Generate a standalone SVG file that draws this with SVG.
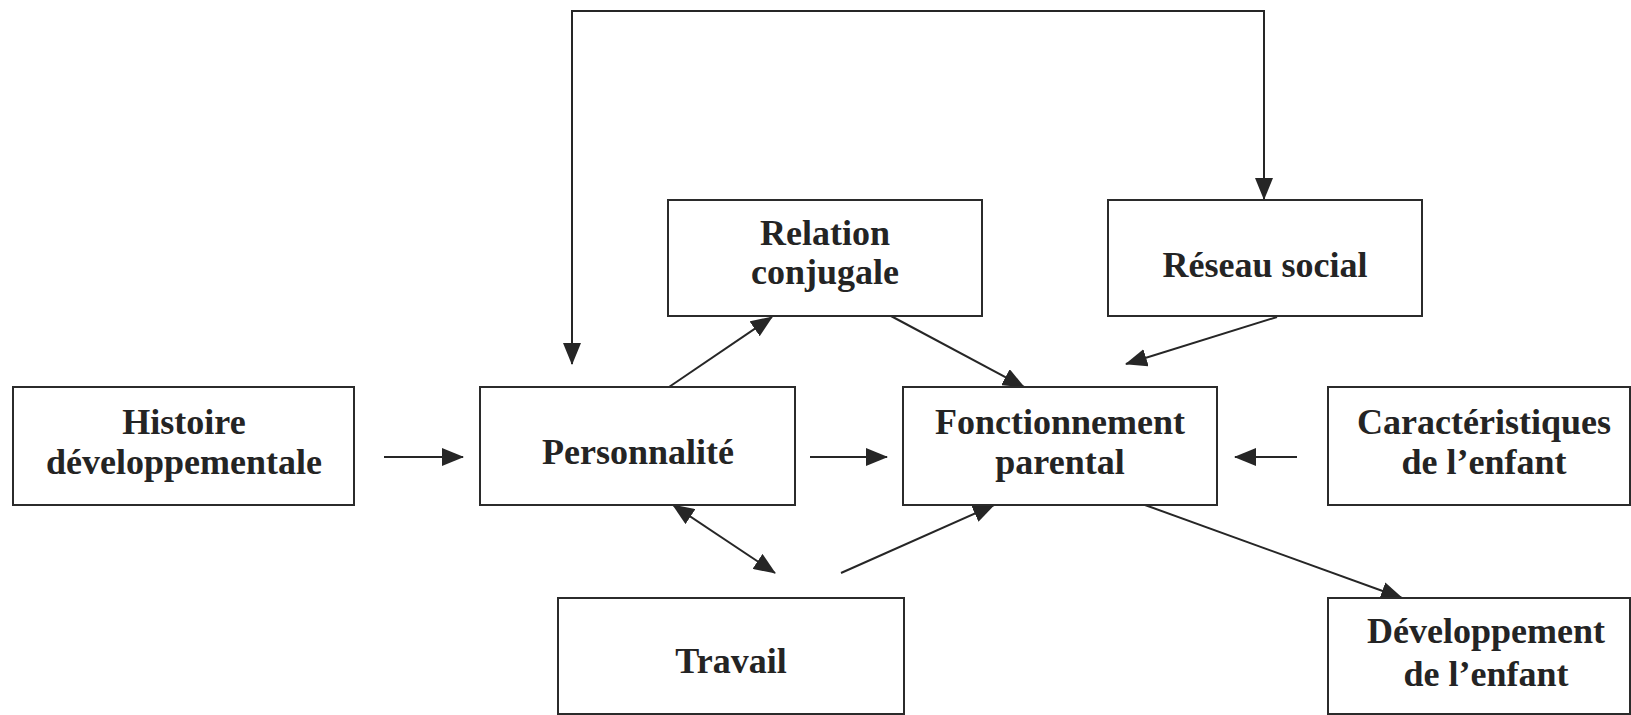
<svg xmlns="http://www.w3.org/2000/svg" width="1631" height="715" viewBox="0 0 1631 715">
<style>
.box{fill:#fff;stroke:#2b2b2b;stroke-width:2}
.lbl{font-family:"Liberation Serif","Times New Roman",serif;font-weight:bold;font-size:36px;fill:#242424;text-anchor:middle}
.cn{fill:none;stroke:#262626;stroke-width:2}
</style>
<defs>
<marker id="ah" markerUnits="userSpaceOnUse" markerWidth="22" markerHeight="18" refX="21" refY="9" orient="auto-start-reverse" viewBox="0 0 22 18">
<path d="M0,0 L22,9 L0,18 z" fill="#262626"/>
</marker>
</defs>
<rect width="1631" height="715" fill="#fff"/>
<g id="connectors">
<path class="cn" d="M572,364 L572,11 L1264,11 L1264,199" marker-start="url(#ah)" marker-end="url(#ah)"/>
<line class="cn" x1="669" y1="387" x2="772" y2="317" marker-end="url(#ah)"/>
<line class="cn" x1="891" y1="316" x2="1024" y2="387" marker-end="url(#ah)"/>
<line class="cn" x1="1277" y1="317" x2="1126" y2="364" marker-end="url(#ah)"/>
<line class="cn" x1="384" y1="457" x2="463" y2="457" marker-end="url(#ah)"/>
<line class="cn" x1="810" y1="457" x2="887" y2="457" marker-end="url(#ah)"/>
<line class="cn" x1="1297" y1="457" x2="1235" y2="457" marker-end="url(#ah)"/>
<line class="cn" x1="673" y1="505" x2="775" y2="573" marker-start="url(#ah)" marker-end="url(#ah)"/>
<line class="cn" x1="841" y1="573" x2="994" y2="505" marker-end="url(#ah)"/>
<line class="cn" x1="1145" y1="505" x2="1402" y2="598" marker-end="url(#ah)"/>
</g>
<g id="histoire">
<rect class="box" x="13" y="387" width="341" height="118"/>
<text class="lbl" x="184" y="434">Histoire</text>
<text class="lbl" x="184" y="474">développementale</text>
</g>
<g id="personnalite">
<rect class="box" x="480" y="387" width="315" height="118"/>
<text class="lbl" x="638" y="464">Personnalité</text>
</g>
<g id="fonctionnement">
<rect class="box" x="903" y="387" width="314" height="118"/>
<text class="lbl" x="1060" y="434">Fonctionnement</text>
<text class="lbl" x="1060" y="474">parental</text>
</g>
<g id="caracteristiques">
<rect class="box" x="1328" y="387" width="302" height="118"/>
<text class="lbl" x="1484" y="434">Caractéristiques</text>
<text class="lbl" x="1484" y="474">de l’enfant</text>
</g>
<g id="relation">
<rect class="box" x="668" y="200" width="314" height="116"/>
<text class="lbl" x="825" y="245">Relation</text>
<text class="lbl" x="825" y="284">conjugale</text>
</g>
<g id="reseau">
<rect class="box" x="1108" y="200" width="314" height="116"/>
<text class="lbl" x="1265" y="277">Réseau social</text>
</g>
<g id="travail">
<rect class="box" x="558" y="598" width="346" height="116"/>
<text class="lbl" x="731" y="673">Travail</text>
</g>
<g id="developpement">
<rect class="box" x="1328" y="598" width="302" height="116"/>
<text class="lbl" x="1486" y="643">Développement</text>
<text class="lbl" x="1486" y="686">de l’enfant</text>
</g>
</svg>
